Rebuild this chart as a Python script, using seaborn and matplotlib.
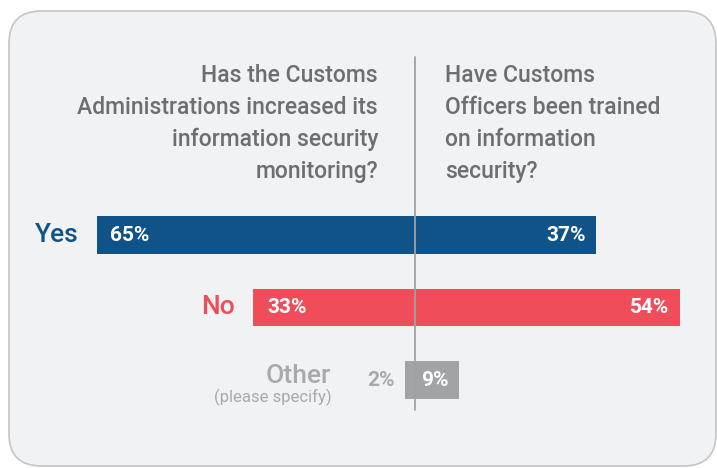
import matplotlib
matplotlib.use("Agg")
import matplotlib.pyplot as plt
from matplotlib.patches import FancyBboxPatch
import seaborn as sns

answers = ["Yes", "No", "Other"]
monitoring = [65, 33, 2]    # left side
trained = [37, 54, 9]       # right side
colors = {"Yes": "#0f5389", "No": "#ef4d5a", "Other": "#a2a3a6"}
label_colors = {"Yes": "#0f5389", "No": "#ef4d5a", "Other": "#a7a9ac"}
left_title = "Has the Customs\nAdministrations increased its\ninformation security\nmonitoring?"
right_title = "Have Customs\nOfficers been trained\non information\nsecurity?"

sns.set_theme(style="white")
plt.rcParams["font.family"] = ["Roboto", "DejaVu Sans"]

fig = plt.figure(figsize=(7.17, 4.68), dpi=100)
fig.patch.set_facecolor("white")

# rounded grey panel, kept behind the axes
panel = FancyBboxPatch((9 / 717, 2 / 468), 707 / 717, 455 / 468,
                       boxstyle="round,pad=0,rounding_size=0.045",
                       transform=fig.transFigure, facecolor="#f1f2f4",
                       edgecolor="#c4c5c8", linewidth=1.2,
                       mutation_aspect=717 / 468, zorder=-10)
fig.patches.append(panel)

ax = fig.add_axes([0, 0, 1, 1])
ax.set_facecolor("none")
ax.set_zorder(1)

px = 4.9     # pixels per percent
row = 72.5   # pixels per row

sns.barplot(x=[-v for v in monitoring], y=answers, hue=answers, order=answers,
            hue_order=answers, palette=colors, orient="h", width=0.52,
            saturation=1, legend=False, linewidth=0, ax=ax)
sns.barplot(x=trained, y=answers, hue=answers, order=answers,
            hue_order=answers, palette=colors, orient="h", width=0.52,
            saturation=1, legend=False, linewidth=0, ax=ax)

ax.set_xlim(-415 / px, 302 / px)
ax.set_ylim((468 - 235) / row, -235 / row)
ax.axis("off")

# centre divider
ax.plot([0, 0], [(57 - 235) / row, (410 - 235) / row], color="#a0a1a4", lw=1.3)

for i, a in enumerate(answers):
    lv, rv = monitoring[i], trained[i]
    if lv >= 10:
        ax.text(-lv + 14 / px, i, f"{lv}%", ha="left", va="center",
                color="white", fontsize=15, fontweight="bold")
        ax.text(-lv - 18 / px, i, a, ha="right", va="center",
                color=label_colors[a], fontsize=19, fontweight="medium")
    else:
        ax.text(-lv - 10 / px, i, f"{lv}%", ha="right", va="center",
                color="#a7a9ac", fontsize=15, fontweight="bold")
        ax.text(-lv - 74 / px, i + 0.04, a, ha="right", va="baseline",
                color=label_colors[a], fontsize=19, fontweight="medium")
        ax.text(-lv - 74 / px, i + 0.31, "(please specify)", ha="right",
                va="baseline", color=label_colors[a], fontsize=12)
    ax.text(rv - 10 / px, i, f"{rv}%", ha="right", va="center",
            color="white", fontsize=15, fontweight="bold")

ax.text(-37 / px, (64 - 235) / row, left_title, ha="right", va="top",
        color="#6d6e71", fontsize=16.5, fontweight="medium", linespacing=1.5)
ax.text(30 / px, (64 - 235) / row, right_title, ha="left", va="top",
        color="#6d6e71", fontsize=16.5, fontweight="medium", linespacing=1.5)

fig.savefig("out.png", dpi=100)
